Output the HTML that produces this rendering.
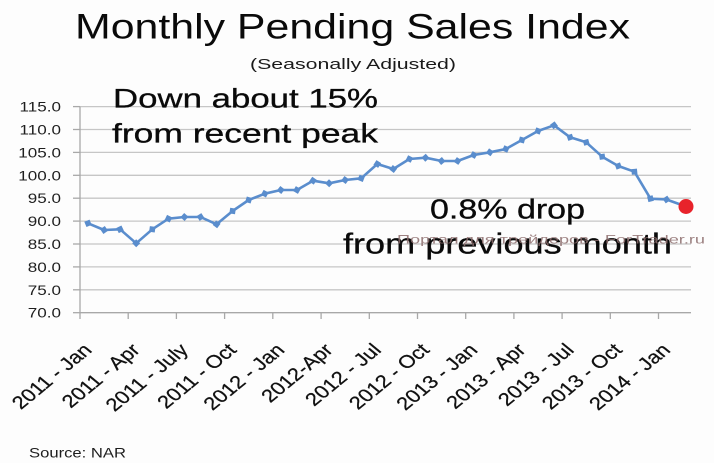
<!DOCTYPE html>
<html>
<head>
<meta charset="utf-8">
<style>
html,body{margin:0;padding:0;background:#fdfdfd;}
svg{display:block;}
text{font-family:"Liberation Sans",sans-serif;}
</style>
</head>
<body>
<svg width="714" height="463" viewBox="0 0 714 463" xmlns="http://www.w3.org/2000/svg">
<defs>
<marker id="dm" markerUnits="userSpaceOnUse" markerWidth="10" markerHeight="10" refX="5" refY="5" orient="auto-start-reverse" viewBox="0 0 10 10">
<polygon points="5,1 9,5 5,9 1,5" fill="#5a8dcd"/>
</marker>
</defs>
<rect width="714" height="463" fill="#fdfdfd"/>

<!-- title -->
<text x="75" y="38.5" font-size="35" fill="#0a0a0a" textLength="555" lengthAdjust="spacingAndGlyphs">Monthly Pending Sales Index</text>
<text x="250" y="69" font-size="15" fill="#1a1a1a" textLength="206" lengthAdjust="spacingAndGlyphs">(Seasonally Adjusted)</text>

<!-- gridlines -->
<g stroke="#c6c6c6" stroke-width="1.3">
<line x1="80" x2="691" y1="106.6" y2="106.6"/>
<line x1="80" x2="691" y1="129.5" y2="129.5"/>
<line x1="80" x2="691" y1="152.4" y2="152.4"/>
<line x1="80" x2="691" y1="175.3" y2="175.3"/>
<line x1="80" x2="691" y1="198.2" y2="198.2"/>
<line x1="80" x2="691" y1="221.1" y2="221.1"/>
<line x1="80" x2="691" y1="244.0" y2="244.0"/>
<line x1="80" x2="691" y1="266.9" y2="266.9"/>
<line x1="80" x2="691" y1="289.8" y2="289.8"/>
</g>
<!-- axes -->
<g stroke="#a8a8a8" stroke-width="1.3">
<line x1="80" x2="80" y1="106.6" y2="312.7"/>
<line x1="80" x2="691" y1="312.7" y2="312.7"/>
<line x1="73" x2="80" y1="106.6" y2="106.6"/>
<line x1="73" x2="80" y1="129.5" y2="129.5"/>
<line x1="73" x2="80" y1="152.4" y2="152.4"/>
<line x1="73" x2="80" y1="175.3" y2="175.3"/>
<line x1="73" x2="80" y1="198.2" y2="198.2"/>
<line x1="73" x2="80" y1="221.1" y2="221.1"/>
<line x1="73" x2="80" y1="244.0" y2="244.0"/>
<line x1="73" x2="80" y1="266.9" y2="266.9"/>
<line x1="73" x2="80" y1="289.8" y2="289.8"/>
<line x1="73" x2="80" y1="312.7" y2="312.7"/>
<line x1="80" x2="80" y1="312.7" y2="319"/>
<line x1="128.2" x2="128.2" y1="312.7" y2="319"/>
<line x1="176.4" x2="176.4" y1="312.7" y2="319"/>
<line x1="224.6" x2="224.6" y1="312.7" y2="319"/>
<line x1="272.8" x2="272.8" y1="312.7" y2="319"/>
<line x1="321.1" x2="321.1" y1="312.7" y2="319"/>
<line x1="369.3" x2="369.3" y1="312.7" y2="319"/>
<line x1="417.5" x2="417.5" y1="312.7" y2="319"/>
<line x1="465.7" x2="465.7" y1="312.7" y2="319"/>
<line x1="513.9" x2="513.9" y1="312.7" y2="319"/>
<line x1="562.1" x2="562.1" y1="312.7" y2="319"/>
<line x1="610.3" x2="610.3" y1="312.7" y2="319"/>
<line x1="658.5" x2="658.5" y1="312.7" y2="319"/>
</g>

<!-- y labels -->
<g font-size="14" fill="#1e1e1e" text-anchor="end">
<text transform="translate(61,111.6) scale(1.22,1)">115.0</text>
<text transform="translate(61,134.5) scale(1.22,1)">110.0</text>
<text transform="translate(61,157.4) scale(1.22,1)">105.0</text>
<text transform="translate(61,180.3) scale(1.22,1)">100.0</text>
<text transform="translate(61,203.2) scale(1.22,1)">95.0</text>
<text transform="translate(61,226.1) scale(1.22,1)">90.0</text>
<text transform="translate(61,249.0) scale(1.22,1)">85.0</text>
<text transform="translate(61,271.9) scale(1.22,1)">80.0</text>
<text transform="translate(61,294.8) scale(1.22,1)">75.0</text>
<text transform="translate(61,317.7) scale(1.22,1)">70.0</text>
</g>

<!-- x labels -->
<g font-size="18" fill="#111" stroke="#111" stroke-width="0.25" text-anchor="end">
<text transform="translate(93,351) scale(1.22,1) rotate(-45)">2011 - Jan</text>
<text transform="translate(141.2,351) scale(1.22,1) rotate(-45)">2011 - Apr</text>
<text transform="translate(189.4,351) scale(1.22,1) rotate(-45)">2011 - July</text>
<text transform="translate(237.6,351) scale(1.22,1) rotate(-45)">2011 - Oct</text>
<text transform="translate(285.8,351) scale(1.22,1) rotate(-45)">2012 - Jan</text>
<text transform="translate(334.1,351) scale(1.22,1) rotate(-45)">2012-Apr</text>
<text transform="translate(382.3,351) scale(1.22,1) rotate(-45)">2012 - Jul</text>
<text transform="translate(430.5,351) scale(1.22,1) rotate(-45)">2012 - Oct</text>
<text transform="translate(478.7,351) scale(1.22,1) rotate(-45)">2013 - Jan</text>
<text transform="translate(526.9,351) scale(1.22,1) rotate(-45)">2013 - Apr</text>
<text transform="translate(575.1,351) scale(1.22,1) rotate(-45)">2013 - Jul</text>
<text transform="translate(623.3,351) scale(1.22,1) rotate(-45)">2013 - Oct</text>
<text transform="translate(671.5,351) scale(1.22,1) rotate(-45)">2014 - Jan</text>
</g>

<!-- series -->
<polyline fill="none" stroke="#5a8dcd" stroke-width="2.6" stroke-linejoin="round"
marker-start="url(#dm)" marker-mid="url(#dm)"
points="88,223.3 104.1,230 120.1,229.3 136.2,243.3 152.3,229.3 168.4,218.7 184.4,217 200.5,217 216.6,224.3 232.6,211 248.7,200 264.8,193.7 280.8,190 296.9,190 313,180.7 329.1,183.3 345.1,180 361.2,178.3 377.3,164 393.3,169 409.4,159 425.5,157.7 441.5,161 457.6,161 473.7,155 489.8,152.3 505.8,149 521.9,140 538,131 554,125.3 570.1,137.3 586.2,142.3 602.2,156.7 618.3,166 634.4,171.7 650.5,198.7 666.5,199.5 686,206.5"/>
<circle cx="686" cy="206.5" r="7.5" fill="#e8232b"/>

<!-- annotations -->
<g fill="#0a0a0a" stroke="#0a0a0a" stroke-width="0.3">
<text x="113" y="107.5" font-size="27" textLength="265" lengthAdjust="spacingAndGlyphs">Down about 15%</text>
<text x="112" y="142.5" font-size="27" textLength="266" lengthAdjust="spacingAndGlyphs">from recent peak</text>
<text x="430" y="218.3" font-size="28" textLength="155" lengthAdjust="spacingAndGlyphs">0.8% drop</text>
<text x="343" y="253.3" font-size="29" textLength="329" lengthAdjust="spacingAndGlyphs">from previous month</text>
</g>
<text x="397" y="243.5" font-size="12" fill="#8c6c6c" fill-opacity="0.85" textLength="308" lengthAdjust="spacingAndGlyphs">Портал для трейдеров - ForTrader.ru</text>

<text x="29" y="457.3" font-size="14" fill="#1e1e1e" textLength="97" lengthAdjust="spacingAndGlyphs">Source: NAR</text>
</svg>
</body>
</html>
